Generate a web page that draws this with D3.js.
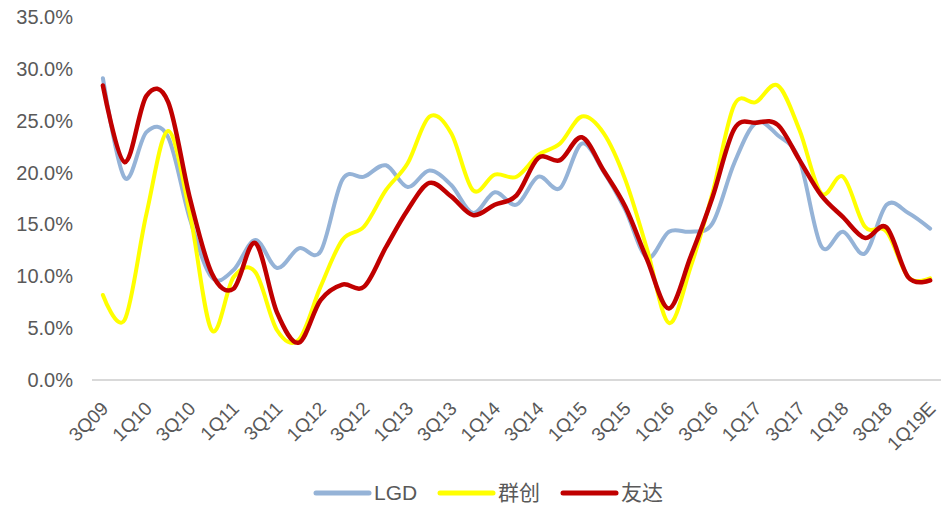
<!DOCTYPE html>
<html><head><meta charset="utf-8">
<script src="https://cdn.jsdelivr.net/npm/d3@7"></script>
<style>body{margin:0;background:#fff;} svg{display:block;}</style>
</head><body>
<svg id="chart" width="941" height="507"></svg>
<script>
const quarters = ["3Q09","4Q09","1Q10","2Q10","3Q10","4Q10","1Q11","2Q11","3Q11","4Q11",
  "1Q12","2Q12","3Q12","4Q12","1Q13","2Q13","3Q13","4Q13","1Q14","2Q14",
  "3Q14","4Q14","1Q15","2Q15","3Q15","4Q15","1Q16","2Q16","3Q16","4Q16",
  "1Q17","2Q17","3Q17","4Q17","1Q18","2Q18","3Q18","4Q18","1Q19E"];
const lgd = [29.1,19.5,23.9,23.4,15.5,9.9,10.6,13.5,10.8,12.7,
  12.4,19.3,19.6,20.7,18.6,20.2,18.8,16.1,18.1,16.9,
  19.6,18.5,22.8,20.1,16.4,11.8,14.3,14.3,15.1,20.9,
  24.8,23.6,21.2,12.9,14.3,12.2,16.9,16.1,14.6];
const qunchuang = [8.2,5.8,16.0,24.0,16.0,4.8,9.9,10.4,4.8,3.9,
  9.0,13.5,14.8,18.3,20.9,25.4,23.8,18.3,19.8,19.6,
  21.7,22.8,25.4,23.8,19.3,12.6,5.5,10.9,18.0,26.5,
  26.8,28.4,24.1,18.0,19.6,14.8,14.3,9.9,9.8];
const youda = [28.4,21.0,27.4,26.8,17.5,10.3,8.8,13.2,6.5,3.6,
  7.7,9.2,9.0,12.8,16.4,19.0,17.7,15.9,16.9,17.8,
  21.4,21.2,23.4,20.2,16.7,11.6,6.9,11.9,17.6,24.2,
  24.8,24.6,21.2,17.8,15.7,13.7,14.7,9.9,9.6];
const yTicks = [0,5,10,15,20,25,30,35];
const seriesNames = ["LGD","群创","友达"];
const seriesColors = ["#95B3D7","#FFFF00","#C00000"];
const seriesData = [lgd, qunchuang, youda];

const svg = d3.select("#chart");
const plotLeft = 92, plotRight = 941, plotTop = 17, plotBottom = 380;

const x = d3.scaleBand().domain(quarters).range([plotLeft, plotRight]);
const cx = q => x(q) + x.bandwidth()/2;
const y = d3.scaleLinear().domain([0,35]).range([plotBottom, plotTop]);

// y axis labels
svg.append("g").selectAll("text").data(yTicks).join("text")
  .attr("x", 73).attr("y", d => y(d)).attr("dy","0.35em")
  .attr("text-anchor","end")
  .attr("font-family","'Liberation Sans', Arial, sans-serif")
  .attr("font-size", 20).attr("fill","#595959")
  .text(d => d.toFixed(1) + "%");

// x axis line
svg.append("line").attr("x1", plotLeft).attr("x2", plotRight)
  .attr("y1", y(0)).attr("y2", y(0))
  .attr("stroke","#d9d9d9").attr("stroke-width",2);

// x labels
svg.append("g").selectAll("text").data(quarters.filter((d,i)=>i%2===0)).join("text")
  .attr("transform", d => `translate(${cx(d)+2},${y(0)+25}) rotate(-45)`)
  .attr("text-anchor","end")
  .attr("font-family","'Liberation Sans', Arial, sans-serif")
  .attr("font-size", 19).attr("fill","#595959")
  .attr("dy","0.35em")
  .text(d => d);

const line = d3.line().x((d,i)=>cx(quarters[i])).y(d=>y(d)).curve(d3.curveCatmullRom.alpha(0));

seriesData.forEach((s,k)=>{
  svg.append("path").datum(s).attr("d", line)
    .attr("fill","none").attr("stroke", seriesColors[k])
    .attr("stroke-width", k===2 ? 4.5 : 4)
    .attr("stroke-linecap","round").attr("stroke-linejoin","round");
});

// legend
const legendX = [316, 440, 563];
const lg = svg.append("g");
seriesNames.forEach((n,k)=>{
  lg.append("line").attr("x1", legendX[k]).attr("x2", legendX[k]+53)
    .attr("y1", 493).attr("y2", 493)
    .attr("stroke", seriesColors[k]).attr("stroke-width", 5).attr("stroke-linecap","round");
  lg.append("text").attr("x", legendX[k]+58).attr("y", 493).attr("dy","0.35em")
    .attr("font-family","'Liberation Sans', 'Noto Sans CJK SC', Arial, sans-serif")
    .attr("font-size", 21).attr("fill","#595959").text(n);
});
</script>
</body></html>
